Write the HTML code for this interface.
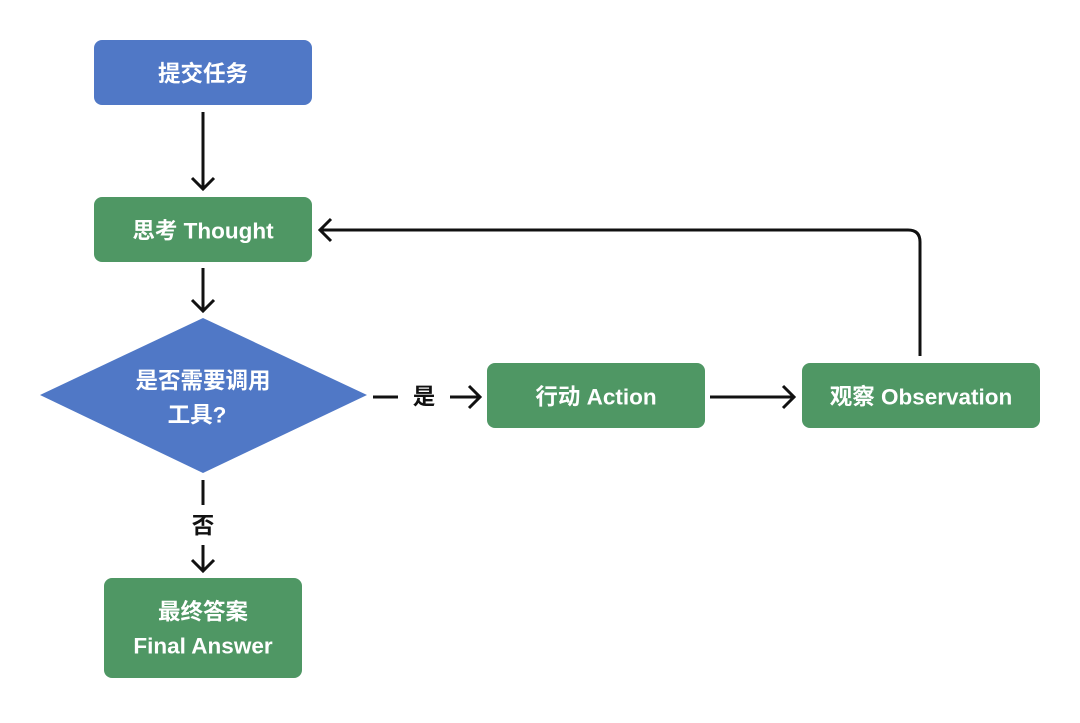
<!DOCTYPE html>
<html><head><meta charset="utf-8"><style>
body{margin:0;background:#fff;width:1080px;height:718px;overflow:hidden}
svg text{font-family:"Liberation Sans","Noto Sans CJK SC",sans-serif;font-weight:bold;fill:#fff;font-size:22.5px;text-anchor:middle;dominant-baseline:central}
</style></head><body>
<svg width="1080" height="718" viewBox="0 0 1080 718">
<g fill="none" stroke="#111" stroke-width="3">
<path d="M203 112V188M192 178L203 189L214 178"/>
<path d="M203 268V310M192 300L203 311L214 300"/>
<path d="M373 397H398M450 397H479M469 386L480 397L469 408"/>
<path d="M710 397H793M783 386L794 397L783 408"/>
<path d="M920 356V242Q920 230 908 230H320M331 219L320 230L331 241"/>
<path d="M203 480V505M203 545V570M192 560L203 571L214 560"/>
</g>
<rect x="94" y="40" width="218" height="65" rx="8" fill="#5078C6"/>
<rect x="94" y="197" width="218" height="65" rx="8" fill="#4F9764"/>
<polygon points="40,395 203,318 367,395 203,473" fill="#5078C6"/>
<rect x="487" y="363" width="218" height="65" rx="8" fill="#4F9764"/>
<rect x="802" y="363" width="238" height="65" rx="8" fill="#4F9764"/>
<rect x="104" y="578" width="198" height="100" rx="8" fill="#4F9764"/>
<text x="203" y="74">提交任务</text>
<text x="203" y="231">思考 Thought</text>
<text x="203" y="381">是否需要调用</text>
<text x="197" y="415">工具?</text>
<text x="596" y="397">行动 Action</text>
<text x="921" y="397">观察 Observation</text>
<text x="203" y="612">最终答案</text>
<text x="203" y="646">Final Answer</text>
<text x="424" y="397" style="fill:#111">是</text>
<text x="203" y="526" style="fill:#111">否</text>
</svg>
</body></html>
